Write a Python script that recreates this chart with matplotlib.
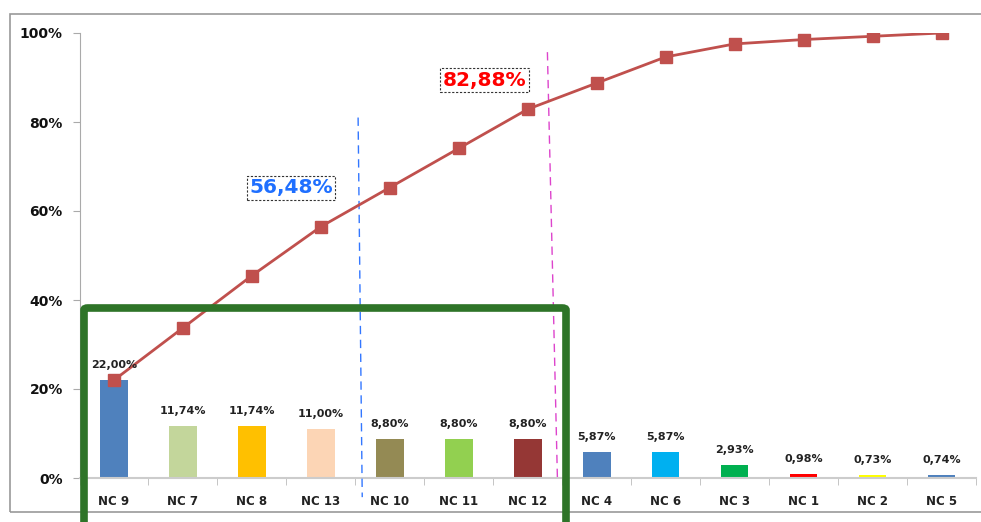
import matplotlib.pyplot as plt
import matplotlib.patches as patches
from matplotlib.lines import Line2D
import numpy as np

categories = ["NC 9", "NC 7", "NC 8", "NC 13", "NC 10", "NC 11", "NC 12",
              "NC 4", "NC 6", "NC 3", "NC 1", "NC 2", "NC 5"]
shares = [22.00, 11.74, 11.74, 11.00, 8.80, 8.80, 8.80, 5.87, 5.87, 2.93, 0.98, 0.73, 0.74]
cumulative = [22.00, 33.74, 45.48, 56.48, 65.28, 74.08, 82.88, 88.75, 94.62, 97.55, 98.53, 99.26, 100.0]
bar_colors = ["#4F81BD", "#C3D69B", "#FFC000", "#FCD5B5", "#948A54", "#92D050", "#953735",
              "#4F81BD", "#00B0F0", "#00B050", "#FF0000", "#FFFF00", "#4F81BD"]

W, H = 981, 522
fig = plt.figure(figsize=(W / 100, H / 100), dpi=100)
ax = fig.add_axes([79.5 / W, 1 - 478 / H, (976 - 79.5) / W, (478 - 33) / H])

x = np.arange(len(categories))
ax.bar(x, shares, width=0.4, color=bar_colors, zorder=2)
ax.plot(x, cumulative, color="#C0504D", lw=2, marker="s", ms=8, zorder=4)

for xi, v in zip(x, shares):
    ax.text(xi, v + 2.2, f"{v:.2f}%".replace(".", ","), ha="center", va="bottom",
            fontsize=8, fontweight="bold", color="#222222", zorder=5)

ax.set_xlim(-0.5, len(categories) - 0.5)
ax.set_ylim(0, 100)
ax.set_yticks([0, 20, 40, 60, 80, 100])
ax.set_yticklabels([f"{t}%" for t in [0, 20, 40, 60, 80, 100]])
ax.set_xticks(x)
ax.set_xticklabels(categories)
ax.set_xticks(np.arange(-0.5, len(categories)), minor=True)
ax.tick_params(axis="x", which="major", length=0, pad=12, labelsize=8.5, labelcolor="#222222")
ax.tick_params(axis="x", which="minor", length=5, color="#BBBBBB")
ax.tick_params(axis="y", length=5, color="#AAAAAA", pad=7, labelsize=10, labelcolor="#111111")
for lbl in ax.get_xticklabels() + ax.get_yticklabels():
    lbl.set_fontweight("bold")
for s in ["top", "right"]:
    ax.spines[s].set_visible(False)
ax.spines["left"].set_color("#AAAAAA")
ax.spines["bottom"].set_color("#CCCCCC")
ax.spines["bottom"].set_linewidth(1.5)

# dashed cut-off lines
ax.add_line(Line2D([3.54, 3.60], [81, -4.3], color="#3377FF", lw=1, ls=(0, (6, 4)),
                   clip_on=False, zorder=3))
ax.add_line(Line2D([6.285, 6.43], [95.7, 0], color="#DD44CC", lw=1, ls=(0, (6, 4)),
                   clip_on=False, zorder=3))

box = dict(boxstyle="square,pad=0.12", fc="white", ec="#333333", ls=(0, (2, 1.5)), lw=0.8)
ax.text(2.57, 65.2, "56,48%", color="#1F6FFF", fontsize=14.5, fontweight="bold",
        ha="center", va="center", bbox=box, zorder=6)
ax.text(5.37, 89.4, "82,88%", color="#FF0000", fontsize=14.5, fontweight="bold",
        ha="center", va="center", bbox=box, zorder=6)

# outer chart border
fig.patches.append(patches.Rectangle((10 / W, 1 - 512 / H), 1.0, (512 - 14) / H,
                                     transform=fig.transFigure, fill=False,
                                     ec="#999999", lw=1.2, zorder=0))
# green highlight frame
fig.patches.append(patches.FancyBboxPatch((84 / W, -0.1), (566 - 84) / W, (0.1 + 1 - 308 / H),
                                          boxstyle="round,pad=0,rounding_size=0.004",
                                          transform=fig.transFigure, fill=False,
                                          ec="#2E7428", lw=5.5, zorder=10))

fig.savefig("out.png", dpi=100)
